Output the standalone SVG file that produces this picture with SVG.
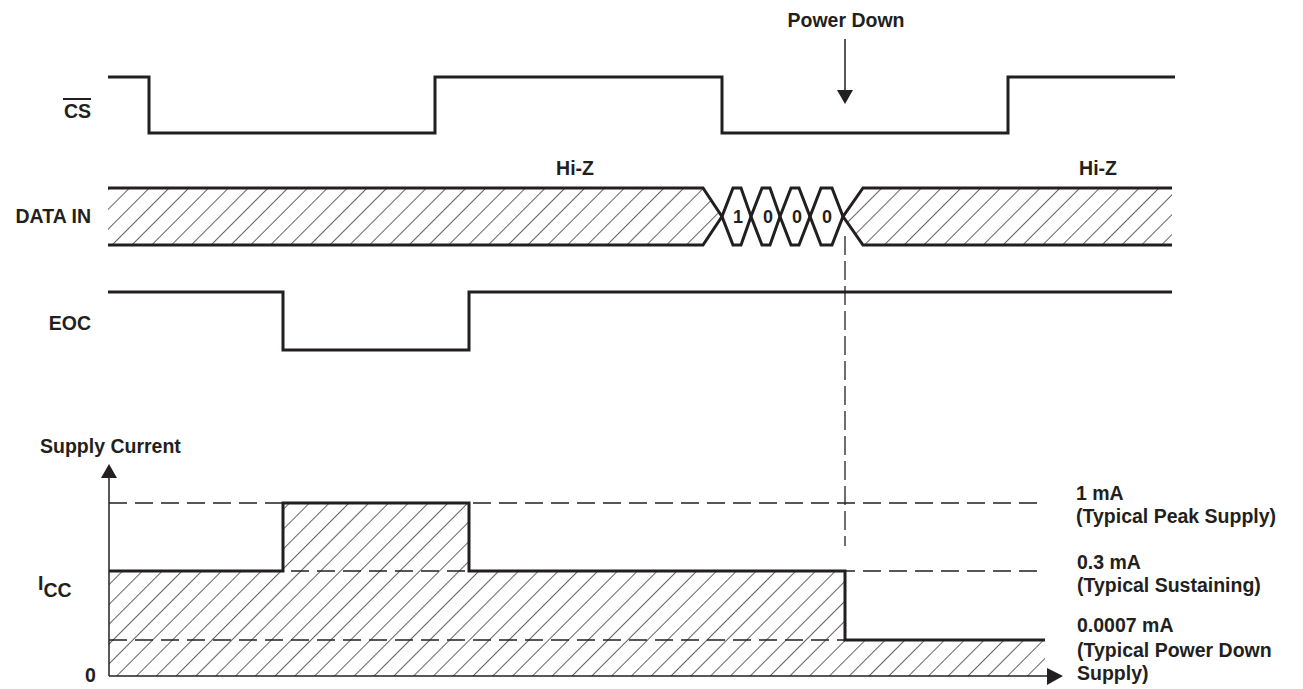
<svg xmlns="http://www.w3.org/2000/svg" width="1303" height="689" viewBox="0 0 1303 689">
<style>
text{font-family:"Liberation Sans",Arial,sans-serif;font-weight:bold;font-size:19.5px;fill:#231f20}
.sig{fill:none;stroke:#231f20;stroke-width:3;stroke-linejoin:miter}
.hatch{fill:url(#hatch);stroke:none}
.dash{fill:none;stroke:#231f20;stroke-width:1.3;stroke-dasharray:18 8}
.vdash{fill:none;stroke:#231f20;stroke-width:1.3;stroke-dasharray:19 6}
.thin{fill:none;stroke:#231f20;stroke-width:1.5}
.head{fill:#231f20}
</style>
<defs>
<pattern id="hatch" patternUnits="userSpaceOnUse" width="14" height="14" patternTransform="rotate(45)">
<line x1="0" y1="0" x2="0" y2="14" stroke="#231f20" stroke-width="1.4"/>
</pattern>
</defs>
<rect width="1303" height="689" fill="#fff"/>

<g id="power-down">
<text x="846" y="27" text-anchor="middle">Power Down</text>
<line class="thin" x1="845" y1="39" x2="845" y2="92"/>
<polygon class="head" points="837,90 853,90 845,104"/>
</g>

<g id="cs">
<text x="91" y="118" text-anchor="end">CS</text>
<line x1="63" y1="99" x2="91" y2="99" stroke="#231f20" stroke-width="2"/>
</g>

<g id="data-in">
<text x="91" y="223" text-anchor="end">DATA IN</text>
<polygon class="hatch" points="108,188 703,188 722,216.5 703,245 108,245"/>
<polygon class="hatch" points="843,216.5 863,188 1172,188 1172,245 863,245"/>
<text x="575" y="175" text-anchor="middle">Hi-Z</text>
<text x="1098" y="175" text-anchor="middle">Hi-Z</text>
<text x="738" y="223" text-anchor="middle" style="font-size:18px">1</text>
<text x="768" y="223" text-anchor="middle" style="font-size:18px">0</text>
<text x="797" y="223" text-anchor="middle" style="font-size:18px">0</text>
<text x="827" y="223" text-anchor="middle" style="font-size:18px">0</text>
</g>

<g id="eoc">
<text x="91" y="330" text-anchor="end">EOC</text>
</g>

<g id="supply-current">
<text x="40" y="453">Supply Current</text>
<text x="38" y="590">I<tspan dy="7">CC</tspan></text>
<text x="85" y="682">0</text>
<polygon class="hatch" points="109,571 283,571 283,503 469,503 469,571 845,571 845,640 1045,640 1045,676 109,676"/>
<text x="1076" y="500">1 mA</text>
<text x="1076" y="523">(Typical Peak Supply)</text>
<text x="1077" y="569">0.3 mA</text>
<text x="1077" y="592">(Typical Sustaining)</text>
<text x="1077" y="632">0.0007 mA</text>
<text x="1077" y="657">(Typical Power Down</text>
<text x="1077" y="680">Supply)</text>
</g>

<g id="connectors">
<polyline class="sig" points="108,77 149,77 149,133 435,133 435,77 722,77 722,133 1008,133 1008,77 1175,77"/>
<polyline class="sig" points="108,188 703,188 722,216.5 733,188 741,188 751,216.5 762,188 770,188 780,216.5 791,188 799,188 810,216.5 821,188 832,188 843,216.5 863,188 1172,188"/>
<polyline class="sig" points="108,245 703,245 722,216.5 733,245 741,245 751,216.5 762,245 770,245 780,216.5 791,245 799,245 810,216.5 821,245 832,245 843,216.5 863,245 1172,245"/>
<polyline class="sig" points="108,292 283,292 283,350 469,350 469,292 1172,292"/>
<line class="vdash" x1="845" y1="236" x2="845" y2="546"/>
<line class="dash" x1="109" y1="503" x2="1045" y2="503"/>
<line class="dash" x1="109" y1="571" x2="1045" y2="571"/>
<line class="dash" x1="109" y1="640" x2="1045" y2="640"/>
<line class="thin" x1="109" y1="676" x2="109" y2="476"/>
<polygon class="head" points="101,478 117,478 109,464"/>
<line class="thin" x1="109" y1="676" x2="1048" y2="676"/>
<polygon class="head" points="1047,668 1047,685 1063,676"/>
<polyline class="sig" points="109,571 283,571 283,503 469,503 469,571 845,571 845,640 1045,640"/>
</g>
</svg>
